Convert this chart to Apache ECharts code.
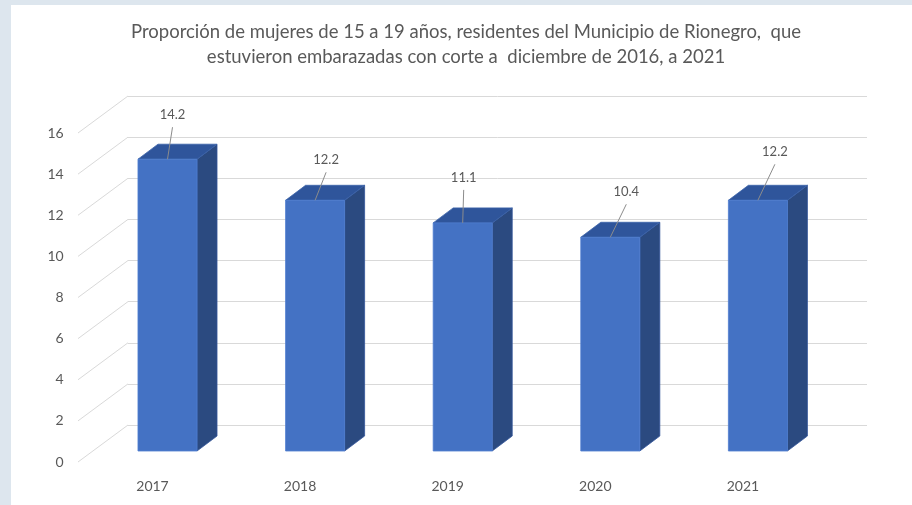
<!DOCTYPE html>
<html>
<head>
<meta charset="utf-8">
<script src="https://cdn.jsdelivr.net/npm/echarts@6/dist/echarts.min.js"></script>
<style>
html,body{margin:0;padding:0;background:#dde6ee;}
#c{width:912px;height:505px;}
</style>
</head>
<body>
<div id="c"></div>
<script>
const categories = ['2017', '2018', '2019', '2020', '2021'];
const values = [14.2, 12.2, 11.1, 10.4, 12.2];
const yTicks = [0, 2, 4, 6, 8, 10, 12, 14, 16];
const titleText = 'Proporción de mujeres de 15 a 19 años, residentes del Municipio de Rionegro,  que\nestuvieron embarazadas con corte a  diciembre de 2016, a 2021';

// style-only: label nudges (px) and 3D depth
const labelNudgeX = [5, 11, 1, 16, 17];
const labelNudgeY = [-44, -40, -45, -45, -48];
const DEPTH_X = 20, DEPTH_Y = -15;
const WALL_DX = -50, WALL_DY = 37;

const chart = echarts.init(document.getElementById('c'), null, {renderer: 'canvas'});
const FONT = 'Lato, "Open Sans", sans-serif';
const TXT = '#595959';

const option = {
  backgroundColor: 'transparent',
  animation: false,
  graphic: [{
    type: 'rect', z: -10, silent: true,
    shape: {x: 11, y: 5, width: 901, height: 500},
    style: {fill: '#ffffff'}
  }],
  title: {
    text: titleText,
    left: 466, top: 20, padding: 0, textAlign: 'center',
    textStyle: {fontFamily: FONT, fontSize: 18.5, fontWeight: 'normal', color: TXT, lineHeight: 25}
  },
  grid: [
    {left: 128, right: 45, top: 96, bottom: 80},
    {left: 93.7, right: 80.3, top: 122.2, bottom: 54},
    {left: 78.7, right: 95.3, top: 133, bottom: 43}
  ],
  xAxis: [
    {gridIndex: 0, type: 'value', min: 0, max: 1, show: false},
    {gridIndex: 1, type: 'category', data: categories, show: false},
    {gridIndex: 2, type: 'category', data: categories,
      axisLine: {show: false}, axisTick: {show: false},
      axisLabel: {margin: 17, fontFamily: FONT, fontSize: 14, color: TXT}}
  ],
  yAxis: [
    {gridIndex: 0, type: 'value', min: 0, max: 16, interval: 2,
      axisLine: {show: false}, axisTick: {show: false}, axisLabel: {show: false},
      splitLine: {lineStyle: {color: '#d9d9d9', width: 1}}},
    {gridIndex: 1, type: 'value', min: 0, max: 16, interval: 2, show: false, splitLine: {show: false}},
    {gridIndex: 2, type: 'value', min: 0, max: 16, interval: 2,
      axisLine: {show: false}, axisTick: {show: false}, splitLine: {show: false},
      axisLabel: {margin: 15, fontFamily: FONT, fontSize: 14, color: TXT}}
  ],
  series: [
    {
      type: 'custom', xAxisIndex: 0, yAxisIndex: 0, z: 1, silent: true,
      data: yTicks.map(v => [0, v]),
      renderItem: function (params, api) {
        const p = api.coord([api.value(0), api.value(1)]);
        return {
          type: 'line',
          shape: {x1: p[0], y1: p[1], x2: p[0] + WALL_DX, y2: p[1] + WALL_DY},
          style: {stroke: '#d9d9d9', lineWidth: 1}
        };
      }
    },
    {
      type: 'custom', xAxisIndex: 1, yAxisIndex: 1, z: 5, silent: true,
      data: values.map((v, i) => [i, v]),
      renderItem: function (params, api) {
        const i = api.value(0), v = api.value(1);
        const p0 = api.coord([i, 0]);
        const p1 = api.coord([i, v]);
        const w = api.size([1, 0])[0] * 0.4;
        const x = p1[0] - w / 2;
        const yt = p1[1], yb = p0[1];
        const dx = DEPTH_X, dy = DEPTH_Y;
        const lx = p1[0] + labelNudgeX[i], ly = yt + labelNudgeY[i];
        return {
          type: 'group',
          children: [
            {type: 'polygon', shape: {points: [[x + w, yt], [x + w + dx, yt + dy], [x + w + dx, yb + dy], [x + w, yb]]},
              style: {fill: '#2b4a80', stroke: '#33569a', lineWidth: 0.8}},
            {type: 'polygon', shape: {points: [[x, yt], [x + dx, yt + dy], [x + w + dx, yt + dy], [x + w, yt]]},
              style: {fill: '#2f559b', stroke: '#3a62a8', lineWidth: 0.8}},
            {type: 'rect', shape: {x: x, y: yt, width: w, height: yb - yt},
              style: {fill: '#4472c4', stroke: '#4f7dd0', lineWidth: 0.8}},
            {type: 'line', shape: {x1: p1[0], y1: yt, x2: lx, y2: ly + 12},
              style: {stroke: '#8c8c8c', lineWidth: 1}},
            {type: 'text', x: lx, y: ly,
              style: {text: String(v), fill: TXT, font: '13px ' + FONT, align: 'center', verticalAlign: 'middle'}}
          ]
        };
      }
    }
  ]
};
chart.setOption(option);
</script>
</body>
</html>
